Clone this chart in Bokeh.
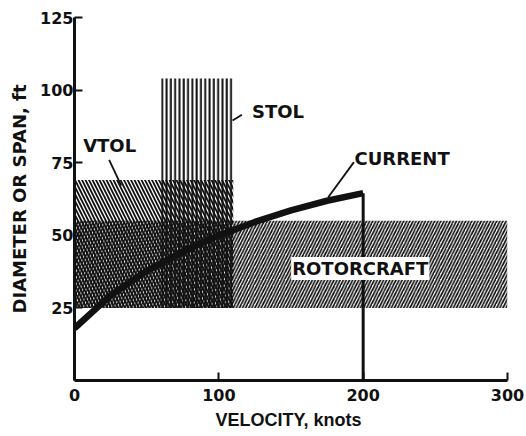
from bokeh.plotting import figure
from bokeh.models import Range1d, FixedTicker, Label
from bokeh.embed import file_html
from bokeh.resources import INLINE

# ---- data ----
region_names = ["VTOL", "STOL", "ROTORCRAFT"]
region_v_min = [0, 60, 0]          # knots
region_v_max = [110, 110, 300]
region_d_min = [25, 25, 25]        # ft
region_d_max = [69, 104, 55]

current_velocity = [0, 25, 50, 75, 100, 125, 150, 175, 200]
current_diameter = [18, 29.3, 37.7, 44.4, 49.9, 54.6, 58.6, 61.9, 64.5]

x_ticks = [0, 100, 200, 300]
y_ticks = [25, 50, 75, 100, 125]

# ---- styles ----
INK = "#111111"
HELV = "Liberation Sans"
DJV = "DejaVu Sans"
hatch_styles = {
    "VTOL": dict(hatch_pattern="\\", hatch_scale=7, hatch_weight=1.8),
    "STOL": dict(hatch_pattern="|", hatch_scale=4.3, hatch_weight=2.0),
    "ROTORCRAFT": dict(hatch_pattern="/", hatch_scale=6.2, hatch_weight=1.7),
}

p = figure(width=526, height=436,
           x_range=Range1d(0, 300), y_range=Range1d(0, 125),
           output_backend="svg", toolbar_location=None,
           min_border_left=74, min_border_right=19,
           min_border_top=17, min_border_bottom=56)
p.outline_line_color = None
p.grid.visible = False
p.background_fill_color = "white"
p.border_fill_color = "white"

for name, x0, x1, y0, y1 in zip(region_names, region_v_min, region_v_max,
                                region_d_min, region_d_max):
    p.quad(left=[x0], right=[x1], bottom=[y0], top=[y1],
           fill_color=None, line_color=None, hatch_color=INK,
           **hatch_styles[name])

# current curve
p.line(current_velocity, current_diameter, line_width=6.5, line_color=INK,
       line_join="round")
p.segment(x0=[current_velocity[-1]], y0=[current_diameter[-1]],
          x1=[current_velocity[-1]], y1=[0], line_width=3, line_color=INK)

# axes
for ax in p.xaxis + p.yaxis:
    ax.axis_line_width = 3
    ax.axis_line_color = INK
    ax.major_tick_line_width = 2
    ax.major_tick_line_color = INK
    ax.major_tick_in = 8
    ax.major_tick_out = 0
    ax.minor_tick_line_color = None
    ax.major_label_text_font = DJV
    ax.major_label_text_font_size = "16px"
    ax.major_label_text_font_style = "bold"
    ax.major_label_text_color = INK
    ax.axis_label_text_font_style = "bold"
    ax.axis_label_text_color = INK

p.xaxis.ticker = FixedTicker(ticks=x_ticks)
p.yaxis.ticker = FixedTicker(ticks=y_ticks)
p.xaxis.axis_label = "VELOCITY,  knots"
p.xaxis.axis_label_text_font = HELV
p.xaxis.axis_label_text_font_size = "18px"
p.xaxis.major_label_standoff = 8
p.xaxis.axis_label_standoff = 6
p.yaxis.axis_label = "DIAMETER OR SPAN, ft"
p.yaxis.axis_label_text_font = DJV
p.yaxis.axis_label_text_font_size = "18px"
p.yaxis.major_label_standoff = 1
p.yaxis.axis_label_standoff = 7

# region labels (positions in data units)
label_kw = dict(text_font=DJV, text_font_size="18px",
                text_font_style="bold", text_color=INK,
                text_baseline="middle")
p.add_layout(Label(x=6, y=81, text="VTOL", text_align="left", **label_kw))
p.add_layout(Label(x=123, y=92.5, text="STOL", text_align="left", **label_kw))
p.add_layout(Label(x=194, y=76.4, text="CURRENT", text_align="left", **label_kw))
p.add_layout(Label(x=198, y=38.6, text="ROTORCRAFT", text_align="center",
                   background_fill_color="white", padding=1, **label_kw))

# leader lines
leader_x0 = [24, 109.5, 175.8]
leader_y0 = [76, 89.5, 63.1]
leader_x1 = [32.4, 116, 193.6]
leader_y1 = [67.1, 91.5, 75.2]
p.segment(x0=leader_x0, y0=leader_y0, x1=leader_x1, y1=leader_y1,
          line_width=1.8, line_color=INK)

open("out.html", "w").write(file_html(p, INLINE))
